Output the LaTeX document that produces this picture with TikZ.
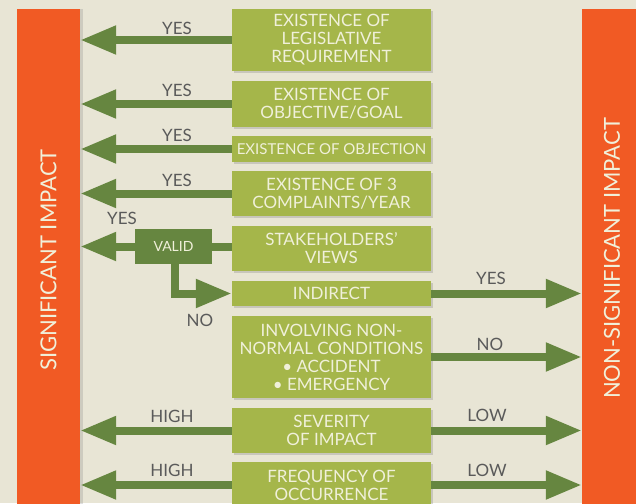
\documentclass[tikz,border=0pt]{standalone}
\usepackage{fontspec}
\setmainfont{Lato}
\usetikzlibrary{arrows.meta, shadows}

\definecolor{bgbeige}{HTML}{E8E5D5}
\definecolor{impactorange}{HTML}{F15A24}
\definecolor{boxgreen}{HTML}{A5B64A}
\definecolor{arrowgreen}{HTML}{668640}
\definecolor{boxtext}{HTML}{F0F0DA}
\definecolor{labelgrey}{HTML}{5A5A5A}

\begin{document}
\begin{tikzpicture}[x=1pt, y=-1pt,
    crit/.style={fill=boxgreen, text=boxtext, align=center, minimum width=199pt, inner sep=0pt,
      font=\fontsize{17}{18}\selectfont, drop shadow={shadow xshift=2pt, shadow yshift=-2pt, opacity=0.3}},
    bar/.style={fill=impactorange, minimum width=63pt, minimum height=500pt, inner sep=0pt},
    barlabel/.style={text=boxtext, rotate=90, inner sep=0pt, font=\fontsize{22}{24}\selectfont},
    answer/.style={text=labelgrey, inner sep=0pt, font=\fontsize{17}{18}\selectfont},
    flow/.style={draw=arrowgreen, line width=8pt},
    flowarrow/.style={flow, -{Triangle[length=36pt, width=27pt]}}]
    \fill[bgbeige] (0,0) rectangle (636,503);
    \useasboundingbox (0,0) rectangle (636,503);

    \node[bar, drop shadow={shadow xshift=3pt, shadow yshift=0pt, opacity=0.25}] (sigbar) at (48.5,259) {};
    \node[bar] (nonsigbar) at (613.5,259) {};
    \node[barlabel] (sigtext) at (48.5,260) {SIGNIFICANT IMPACT};
    \node[barlabel] (nonsigtext) at (612,258.5) {NON-SIGNIFICANT IMPACT};

    \node[crit, minimum height=62pt] (legal) at (331.5,40) {EXISTENCE OF\\LEGISLATIVE\\REQUIREMENT};
    \node[crit, minimum height=46pt] (goal) at (331.5,104) {EXISTENCE OF\\OBJECTIVE/GOAL};
    \node[crit, minimum height=26pt, font=\fontsize{15}{18}\selectfont] (objection) at (331.5,149) {EXISTENCE OF OBJECTION};
    \node[crit, minimum height=45pt] (complaints) at (331.5,193.5) {EXISTENCE OF 3\\COMPLAINTS/YEAR};
    \node[crit, minimum height=45pt] (views) at (331.5,248.5) {STAKEHOLDERS'\\VIEWS};
    \node[crit, minimum height=25pt] (indirect) at (331.5,293.5) {INDIRECT};
    \node[crit, minimum height=82pt] (abnormal) at (331.5,357) {INVOLVING NON-\\NORMAL CONDITIONS\\• ACCIDENT\\• EMERGENCY};
    \node[crit, minimum height=45pt] (severity) at (331.5,430.5) {SEVERITY\\OF IMPACT};
    \node[crit, minimum height=46pt] (frequency) at (331.5,485) {FREQUENCY OF\\OCCURRENCE};
    \node[fill=arrowgreen, text=boxtext, minimum width=77pt, minimum height=35pt, inner sep=0pt,
      font=\fontsize{14}{16}\selectfont] (valid) at (173.5,246.5) {VALID};

    \draw[flowarrow] (legal.west) -- (legal.west -| sigbar.east);
    \draw[flowarrow] (goal.west) -- (goal.west -| sigbar.east);
    \draw[flowarrow] (objection.west) -- (objection.west -| sigbar.east);
    \draw[flowarrow] (complaints.west) -- (complaints.west -| sigbar.east);
    \draw[flow] (views.west |- valid.east) -- (valid.east);
    \draw[flowarrow] (valid.west) -- (valid.west -| sigbar.east);
    \draw[flowarrow] ([xshift=1.5pt]valid.south) |- (indirect.west);
    \draw[flowarrow] (severity.west) -- (severity.west -| sigbar.east);
    \draw[flowarrow] (frequency.west) -- (frequency.west -| sigbar.east);

    \draw[flowarrow] (indirect.east) -- (indirect.east -| nonsigbar.west);
    \draw[flowarrow] (abnormal.east) -- (abnormal.east -| nonsigbar.west);
    \draw[flowarrow] (severity.east) -- (severity.east -| nonsigbar.west);
    \draw[flowarrow] (frequency.east) -- (frequency.east -| nonsigbar.west);

    \node[answer] (yeslegal) at (177,28) {YES};
    \node[answer] (yesgoal) at (177,90) {YES};
    \node[answer] (yesobjection) at (177,135) {YES};
    \node[answer] (yescomplaints) at (177,180) {YES};
    \node[answer] (yesvalid) at (122,218) {YES};
    \node[answer] (novalid) at (200,320) {NO};
    \node[answer] (highseverity) at (172,416) {HIGH};
    \node[answer] (highfrequency) at (172,470) {HIGH};
    \node[answer] (yesindirect) at (491,278) {YES};
    \node[answer] (noabnormal) at (490,344) {NO};
    \node[answer] (lowseverity) at (487,415) {LOW};
    \node[answer] (lowfrequency) at (487,470) {LOW};
\end{tikzpicture}
\end{document}
